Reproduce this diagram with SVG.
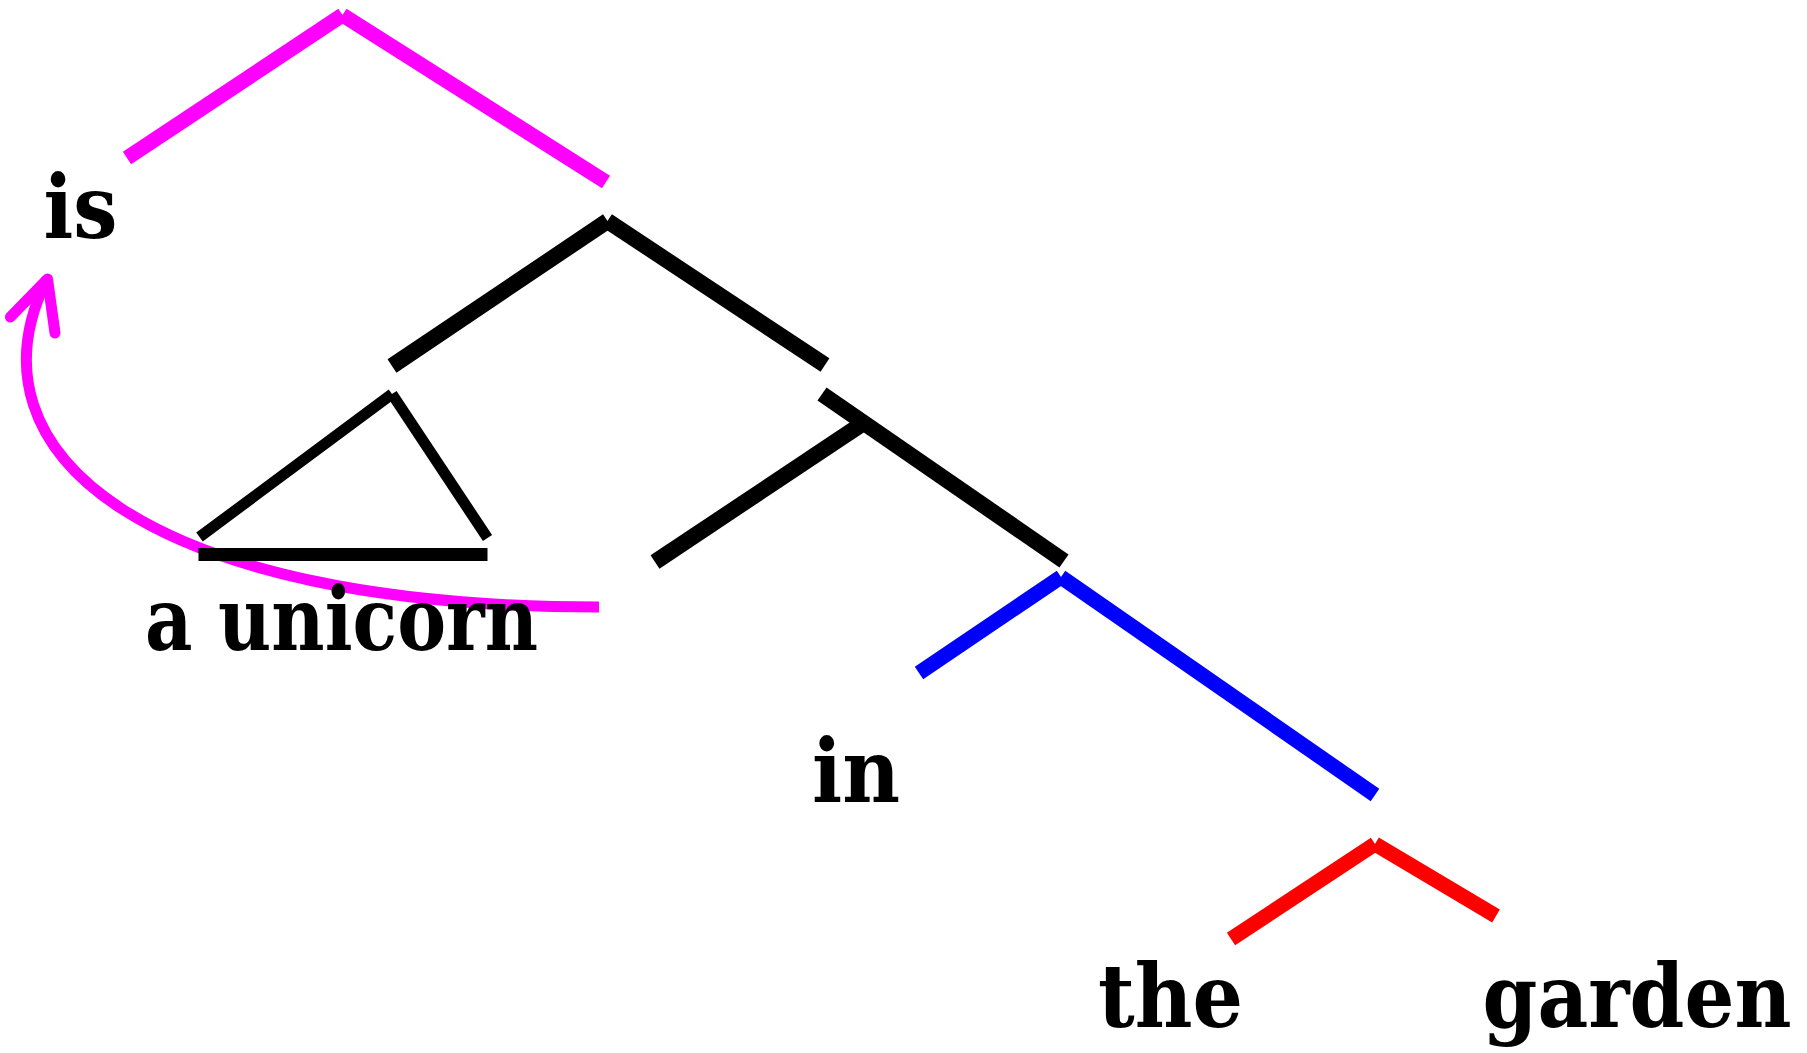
<svg xmlns="http://www.w3.org/2000/svg" width="1807" height="1053" viewBox="0 0 1807 1053">
<style>
.lbl{font-family:"DejaVu Serif","Liberation Serif",serif;font-weight:bold;font-size:88px;fill:#000;text-anchor:middle}
.e{fill:none;stroke-linecap:butt}
.mg{stroke:#FF00FF;stroke-width:15}
.bk{stroke:#000;stroke-width:16}
.th{stroke:#000;stroke-width:11}
.bar{stroke:#000;stroke-width:13}
.bl{stroke:#0000FF;stroke-width:15}
.rd{stroke:#FF0000;stroke-width:15}
.mv{fill:none;stroke:#FF00FF;stroke-width:11}
</style>
<rect width="1807" height="1053" fill="#fff"/>
<g id="movement">
<path class="mv" d="M599,607 C150,607 -40,455 47,279" stroke-linecap="butt"/>
<polyline class="mv" points="10.4,317 47.5,279 55,333" stroke-linecap="round" stroke-linejoin="round"/>
</g>
<g id="connectors">
<line class="e mg" x1="127" y1="158" x2="342.5" y2="15"/>
<line class="e mg" x1="342.5" y1="15" x2="606" y2="182"/>
<line class="e bk" x1="392" y1="366" x2="607.5" y2="221"/>
<line class="e bk" x1="607.5" y1="221" x2="825" y2="365"/>
<line class="e th" x1="392" y1="394" x2="199.5" y2="537"/>
<line class="e th" x1="392" y1="394" x2="487.5" y2="538"/>
<line class="e bar" x1="198.5" y1="554.5" x2="487.5" y2="554.5"/>
<line class="e bk" x1="822" y1="394" x2="1064" y2="561"/>
<line class="e bk" x1="865" y1="422" x2="655" y2="562"/>
<line class="e bl" x1="1061" y1="577" x2="919" y2="673"/>
<line class="e bl" x1="1061" y1="577" x2="1375" y2="795"/>
<line class="e rd" x1="1375" y1="844" x2="1231" y2="939"/>
<line class="e rd" x1="1375" y1="844" x2="1496" y2="916"/>
</g>
<g id="node-is"><text class="lbl" x="80.5" y="238" textLength="74" lengthAdjust="spacingAndGlyphs">is</text></g>
<g id="node-aunicorn"><text class="lbl" x="341.5" y="650" textLength="393" lengthAdjust="spacingAndGlyphs">a unicorn</text></g>
<g id="node-in"><text class="lbl" x="856" y="802" textLength="88" lengthAdjust="spacingAndGlyphs">in</text></g>
<g id="node-the"><text class="lbl" x="1170.5" y="1027" textLength="145" lengthAdjust="spacingAndGlyphs">the</text></g>
<g id="node-garden"><text class="lbl" x="1637" y="1027" textLength="309" lengthAdjust="spacingAndGlyphs">garden</text></g>
</svg>
